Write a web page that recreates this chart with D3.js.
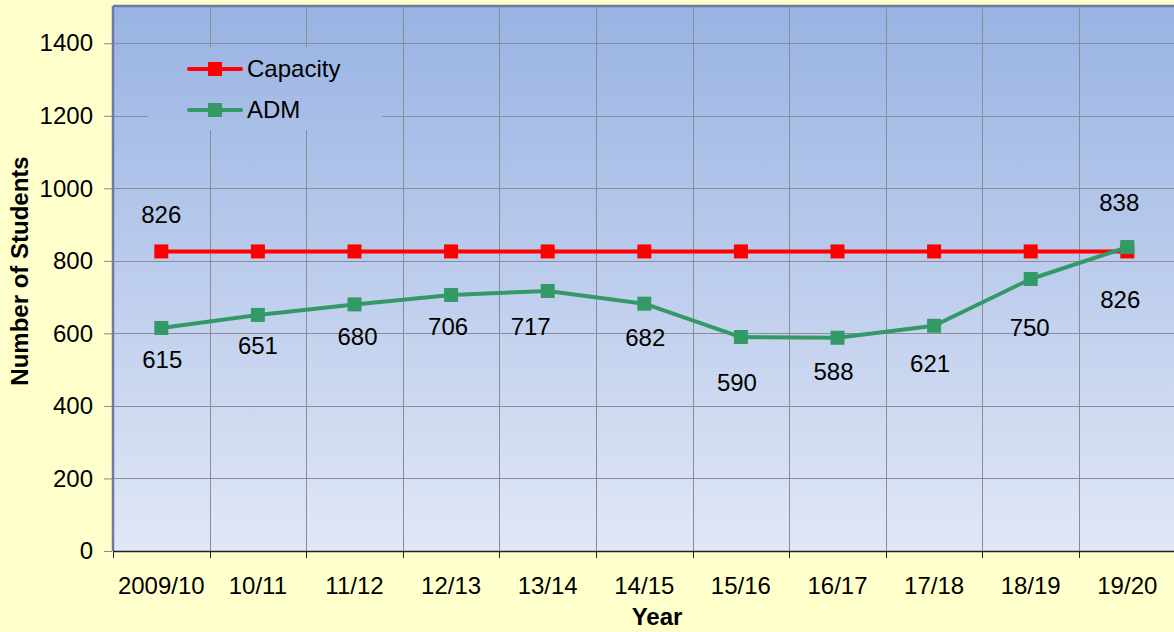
<!DOCTYPE html>
<html>
<head>
<meta charset="utf-8">
<script src="https://cdn.jsdelivr.net/npm/d3@7"></script>
<style>
  body { margin: 0; background: #ffffcc; overflow: hidden; }
  svg { display: block; font-family: "Liberation Sans", Arial, sans-serif; }
</style>
</head>
<body>
<svg id="chart" width="1174" height="632"></svg>
<script>
// chart data
var years = ["2009/10", "10/11", "11/12", "12/13", "13/14", "14/15", "15/16", "16/17", "17/18", "18/19", "19/20"];
var capacity = [826, 826, 826, 826, 826, 826, 826, 826, 826, 826, 826];
var adm = [615, 651, 680, 706, 717, 682, 590, 588, 621, 750, 838];
var yTicks = [0, 200, 400, 600, 800, 1000, 1200, 1400];

// where the labels sit relative to their point (Excel placed them by hand)
var admLabelDx = [1, 0, 3, -3, -17, 1, -4, -4, -4, -1, -8];
var admLabelDy = [32, 31, 33, 32, 36, 34, 46, 34, 38, 49, -44];
var capLabelShown = [0, 10];
var capLabelDx = [0, -7];
var capLabelDy = [-36, 49];

var svg = d3.select("#chart");
var plotLeft = 113, plotRight = 1175.6, plotTop = 7, plotBottom = 551;
var fs = 24;

var x = d3.scaleBand().domain(years).range([plotLeft, plotRight]).padding(0);
var y = d3.scaleLinear().domain([0, 1500]).range([plotBottom, plotTop]);
function cx(i) { return x(years[i]) + x.bandwidth() / 2; }

//background gradient for the plot area
var defs = svg.append("defs");
var grad = defs.append("linearGradient")
    .attr("id", "plotbg")
    .attr("gradientUnits", "userSpaceOnUse")
    .attr("x1", 0).attr("y1", plotTop).attr("x2", 0).attr("y2", plotBottom);
grad.append("stop").attr("offset", "0%").attr("stop-color", "#98b3e3");
grad.append("stop").attr("offset", "100%").attr("stop-color", "#e1e7f6");

svg.append("rect")
    .attr("x", plotLeft).attr("y", plotTop)
    .attr("width", plotRight - plotLeft).attr("height", plotBottom - plotTop)
    .attr("fill", "url(#plotbg)");

//grid lines
svg.append("g").selectAll("line")
    .data(yTicks.slice(1))
    .enter().append("line")
    .attr("x1", plotLeft).attr("x2", plotRight)
    .attr("y1", function(d){ return Math.round(y(d)) + 0.5; })
    .attr("y2", function(d){ return Math.round(y(d)) + 0.5; })
    .attr("stroke", "#8c8c96").attr("stroke-width", 1);

svg.append("g").selectAll("line")
    .data(years.slice(1))
    .enter().append("line")
    .attr("x1", function(d){ return Math.round(x(d)) + 0.5; })
    .attr("x2", function(d){ return Math.round(x(d)) + 0.5; })
    .attr("y1", plotTop).attr("y2", plotBottom)
    .attr("stroke", "#8c8c96").attr("stroke-width", 1);

//plot frame (left + top)
svg.append("line").attr("x1", plotLeft).attr("x2", plotLeft).attr("y1", plotTop - 1).attr("y2", plotBottom)
    .attr("stroke", "#6f7aa3").attr("stroke-width", 2.5);
svg.append("line").attr("x1", plotLeft).attr("x2", plotRight).attr("y1", plotTop - 1).attr("y2", plotTop - 1)
    .attr("stroke", "#6f7aa3").attr("stroke-width", 2.5);

//axes
var yAxis = d3.axisLeft(y).tickValues(yTicks).tickFormat(d3.format("d")).tickSize(8).tickPadding(12);
var yg = svg.append("g").attr("transform", "translate(" + plotLeft + ",0)").call(yAxis);
yg.select(".domain").remove();
yg.selectAll(".tick line").attr("stroke", "#888").attr("transform", "translate(-1,0)");
yg.selectAll(".tick text").attr("font-size", fs).attr("fill", "#000")
    .attr("font-family", "Liberation Sans, Arial, sans-serif");

var xg = svg.append("g").attr("transform", "translate(0," + plotBottom + ")");
xg.append("line").attr("x1", plotLeft).attr("x2", plotRight).attr("y1", 0.5).attr("y2", 0.5)
    .attr("stroke", "#222").attr("stroke-width", 1.5);
xg.selectAll(".xt")
    .data(years)
    .enter().append("line")
    .attr("x1", function(d){ return Math.round(x(d)) + 0.5; })
    .attr("x2", function(d){ return Math.round(x(d)) + 0.5; })
    .attr("y1", 0).attr("y2", 7)
    .attr("stroke", "#222");
xg.selectAll(".xl")
    .data(years)
    .enter().append("text")
    .attr("x", function(d, i){ return cx(i); })
    .attr("y", 43)
    .attr("text-anchor", "middle")
    .attr("font-size", fs)
    .text(function(d){ return d; });

//axis titles
svg.append("text")
    .attr("transform", "translate(28,271) rotate(-90)")
    .attr("text-anchor", "middle")
    .attr("font-size", fs).attr("font-weight", "bold")
    .text("Number of Students");
svg.append("text")
    .attr("x", 657).attr("y", 625)
    .attr("text-anchor", "middle")
    .attr("font-size", fs).attr("font-weight", "bold")
    .text("Year");

//lines and markers
var line = d3.line()
    .x(function(d, i){ return cx(i); })
    .y(function(d){ return y(d); });

function drawSeries(data, color) {
    svg.append("path").datum(data)
        .attr("d", line)
        .attr("fill", "none")
        .attr("stroke", color)
        .attr("stroke-width", 4)
        .attr("stroke-linejoin", "round");
    svg.append("g").selectAll("rect")
        .data(data)
        .enter().append("rect")
        .attr("x", function(d, i){ return cx(i) - 7; })
        .attr("y", function(d){ return y(d) - 7; })
        .attr("width", 14).attr("height", 14)
        .attr("fill", color);
}
drawSeries(capacity, "#ff0000");
drawSeries(adm, "#339966");

//data labels
svg.append("g").selectAll("text")
    .data(adm)
    .enter().append("text")
    .attr("x", function(d, i){ return cx(i) + admLabelDx[i]; })
    .attr("y", function(d, i){ return y(d) + admLabelDy[i] + 8; })
    .attr("text-anchor", "middle")
    .attr("font-size", fs)
    .text(function(d){ return d; });

svg.append("g").selectAll("text")
    .data(capLabelShown)
    .enter().append("text")
    .attr("x", function(d, j){ return cx(d) + capLabelDx[j]; })
    .attr("y", function(d, j){ return y(capacity[d]) + capLabelDy[j] + 8; })
    .attr("text-anchor", "middle")
    .attr("font-size", fs)
    .text(function(d){ return capacity[d]; });

//legend
var legend = svg.append("g");
legend.append("rect")
    .attr("x", 148).attr("y", 47).attr("width", 234).attr("height", 83)
    .attr("fill", "url(#plotbg)");
var legItems = [{name: "Capacity", color: "#ff0000"}, {name: "ADM", color: "#339966"}];
legItems.forEach(function(item, i){
    var ly = 69 + i * 41;
    legend.append("line")
        .attr("x1", 189).attr("x2", 241).attr("y1", ly).attr("y2", ly)
        .attr("stroke", item.color).attr("stroke-width", 4).attr("stroke-linecap", "round");
    legend.append("rect")
        .attr("x", 208).attr("y", ly - 7).attr("width", 14).attr("height", 14)
        .attr("fill", item.color);
    legend.append("text")
        .attr("x", 247).attr("y", ly + 8)
        .attr("font-size", fs)
        .text(item.name);
});
</script>
</body>
</html>
